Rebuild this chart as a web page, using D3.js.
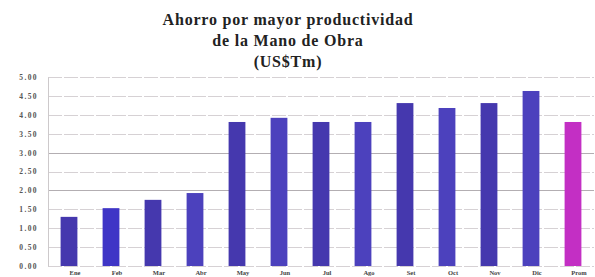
<!DOCTYPE html>
<html>
<head>
<meta charset="utf-8">
<script src="https://cdn.jsdelivr.net/npm/d3@7"></script>
<style>
body { margin: 0; background: #fff; overflow: hidden; }
text { font-family: "Liberation Serif", "DejaVu Serif", serif; }
</style>
</head>
<body>
<div id="chart"></div>
<script>
var titleLines = ["Ahorro por mayor productividad", "de la Mano de Obra", "(US$Tm)"];
var categories = ["Ene", "Feb", "Mar", "Abr", "May", "Jun", "Jul", "Ago", "Set", "Oct", "Nov", "Dic", "Prom"];
var values = [1.30, 1.53, 1.75, 1.93, 3.81, 3.92, 3.81, 3.81, 4.31, 4.18, 4.31, 4.63, 3.81];
var yTicks = [0, 0.5, 1, 1.5, 2, 2.5, 3, 3.5, 4, 4.5, 5];

var W = 595, H = 277;
var margin = {top: 77, right: 1, bottom: 11, left: 48};
var width = W - margin.left - margin.right,
    height = H - margin.top - margin.bottom;

var svg = d3.select("#chart").append("svg")
    .attr("width", W).attr("height", H);

// title
svg.append("g").selectAll("text")
    .data(titleLines).enter().append("text")
    .attr("x", 288)
    .attr("y", function(d, i) { return 25 + i * 21; })
    .attr("text-anchor", "middle")
    .attr("font-size", 16)
    .attr("font-weight", "bold")
    .attr("letter-spacing", 0.8)
    .attr("fill", "#222")
    .text(function(d) { return d; });

var g = svg.append("g")
    .attr("transform", "translate(" + margin.left + "," + margin.top + ")");

var x = d3.scaleBand().domain(categories).range([0, width]).paddingInner(0.6).paddingOuter(0.3);
var y = d3.scaleLinear().domain([0, 5]).range([height, 0]);

// grid
g.append("g").selectAll("line")
    .data(yTicks).enter().append("line")
    .attr("x1", 0).attr("x2", width)
    .attr("y1", function(d) { return Math.round(y(d)) + 0.5; })
    .attr("y2", function(d) { return Math.round(y(d)) + 0.5; })
    .attr("stroke", function(d) { return (d == 2 || d == 3) ? "#b3aeb2" : "#d6d1d4"; })
    .attr("stroke-width", 1)
    .attr("stroke-dasharray", function(d) { return (d == 2 || d == 3) ? null : "14,2"; });

// y axis
var yAxis = g.append("g")
    .call(d3.axisLeft(y).tickValues(yTicks).tickSize(0).tickPadding(10).tickFormat(d3.format(".2f")));
yAxis.select(".domain").attr("stroke", "#cdc9cb");
yAxis.selectAll("text")
    .attr("font-size", 7.5)
    .attr("font-weight", "bold")
    .attr("letter-spacing", 1.4)
    .attr("fill", "#555");

// bars
g.append("g").selectAll("rect")
    .data(values).enter().append("rect")
    .attr("x", function(d, i) { return x(categories[i]); })
    .attr("y", function(d) { return y(d); })
    .attr("width", x.bandwidth())
    .attr("height", function(d) { return height - y(d); })
    .attr("fill", function(d, i) {
        if (i == categories.length - 1) return "#c32fc4";
        if (i == 1) return "#3f35c6";
        return i % 2 ? "#4c41bd" : "#4538ae";
    });

// category labels
g.append("g").selectAll("text")
    .data(categories).enter().append("text")
    .attr("x", function(d) { return x(d) + x.bandwidth() / 2 + 6; })
    .attr("y", height + 9)
    .attr("text-anchor", "middle")
    .attr("font-size", 6.5)
    .attr("font-weight", "bold")
    .attr("fill", "#444")
    .text(function(d) { return d; });
</script>
</body>
</html>
